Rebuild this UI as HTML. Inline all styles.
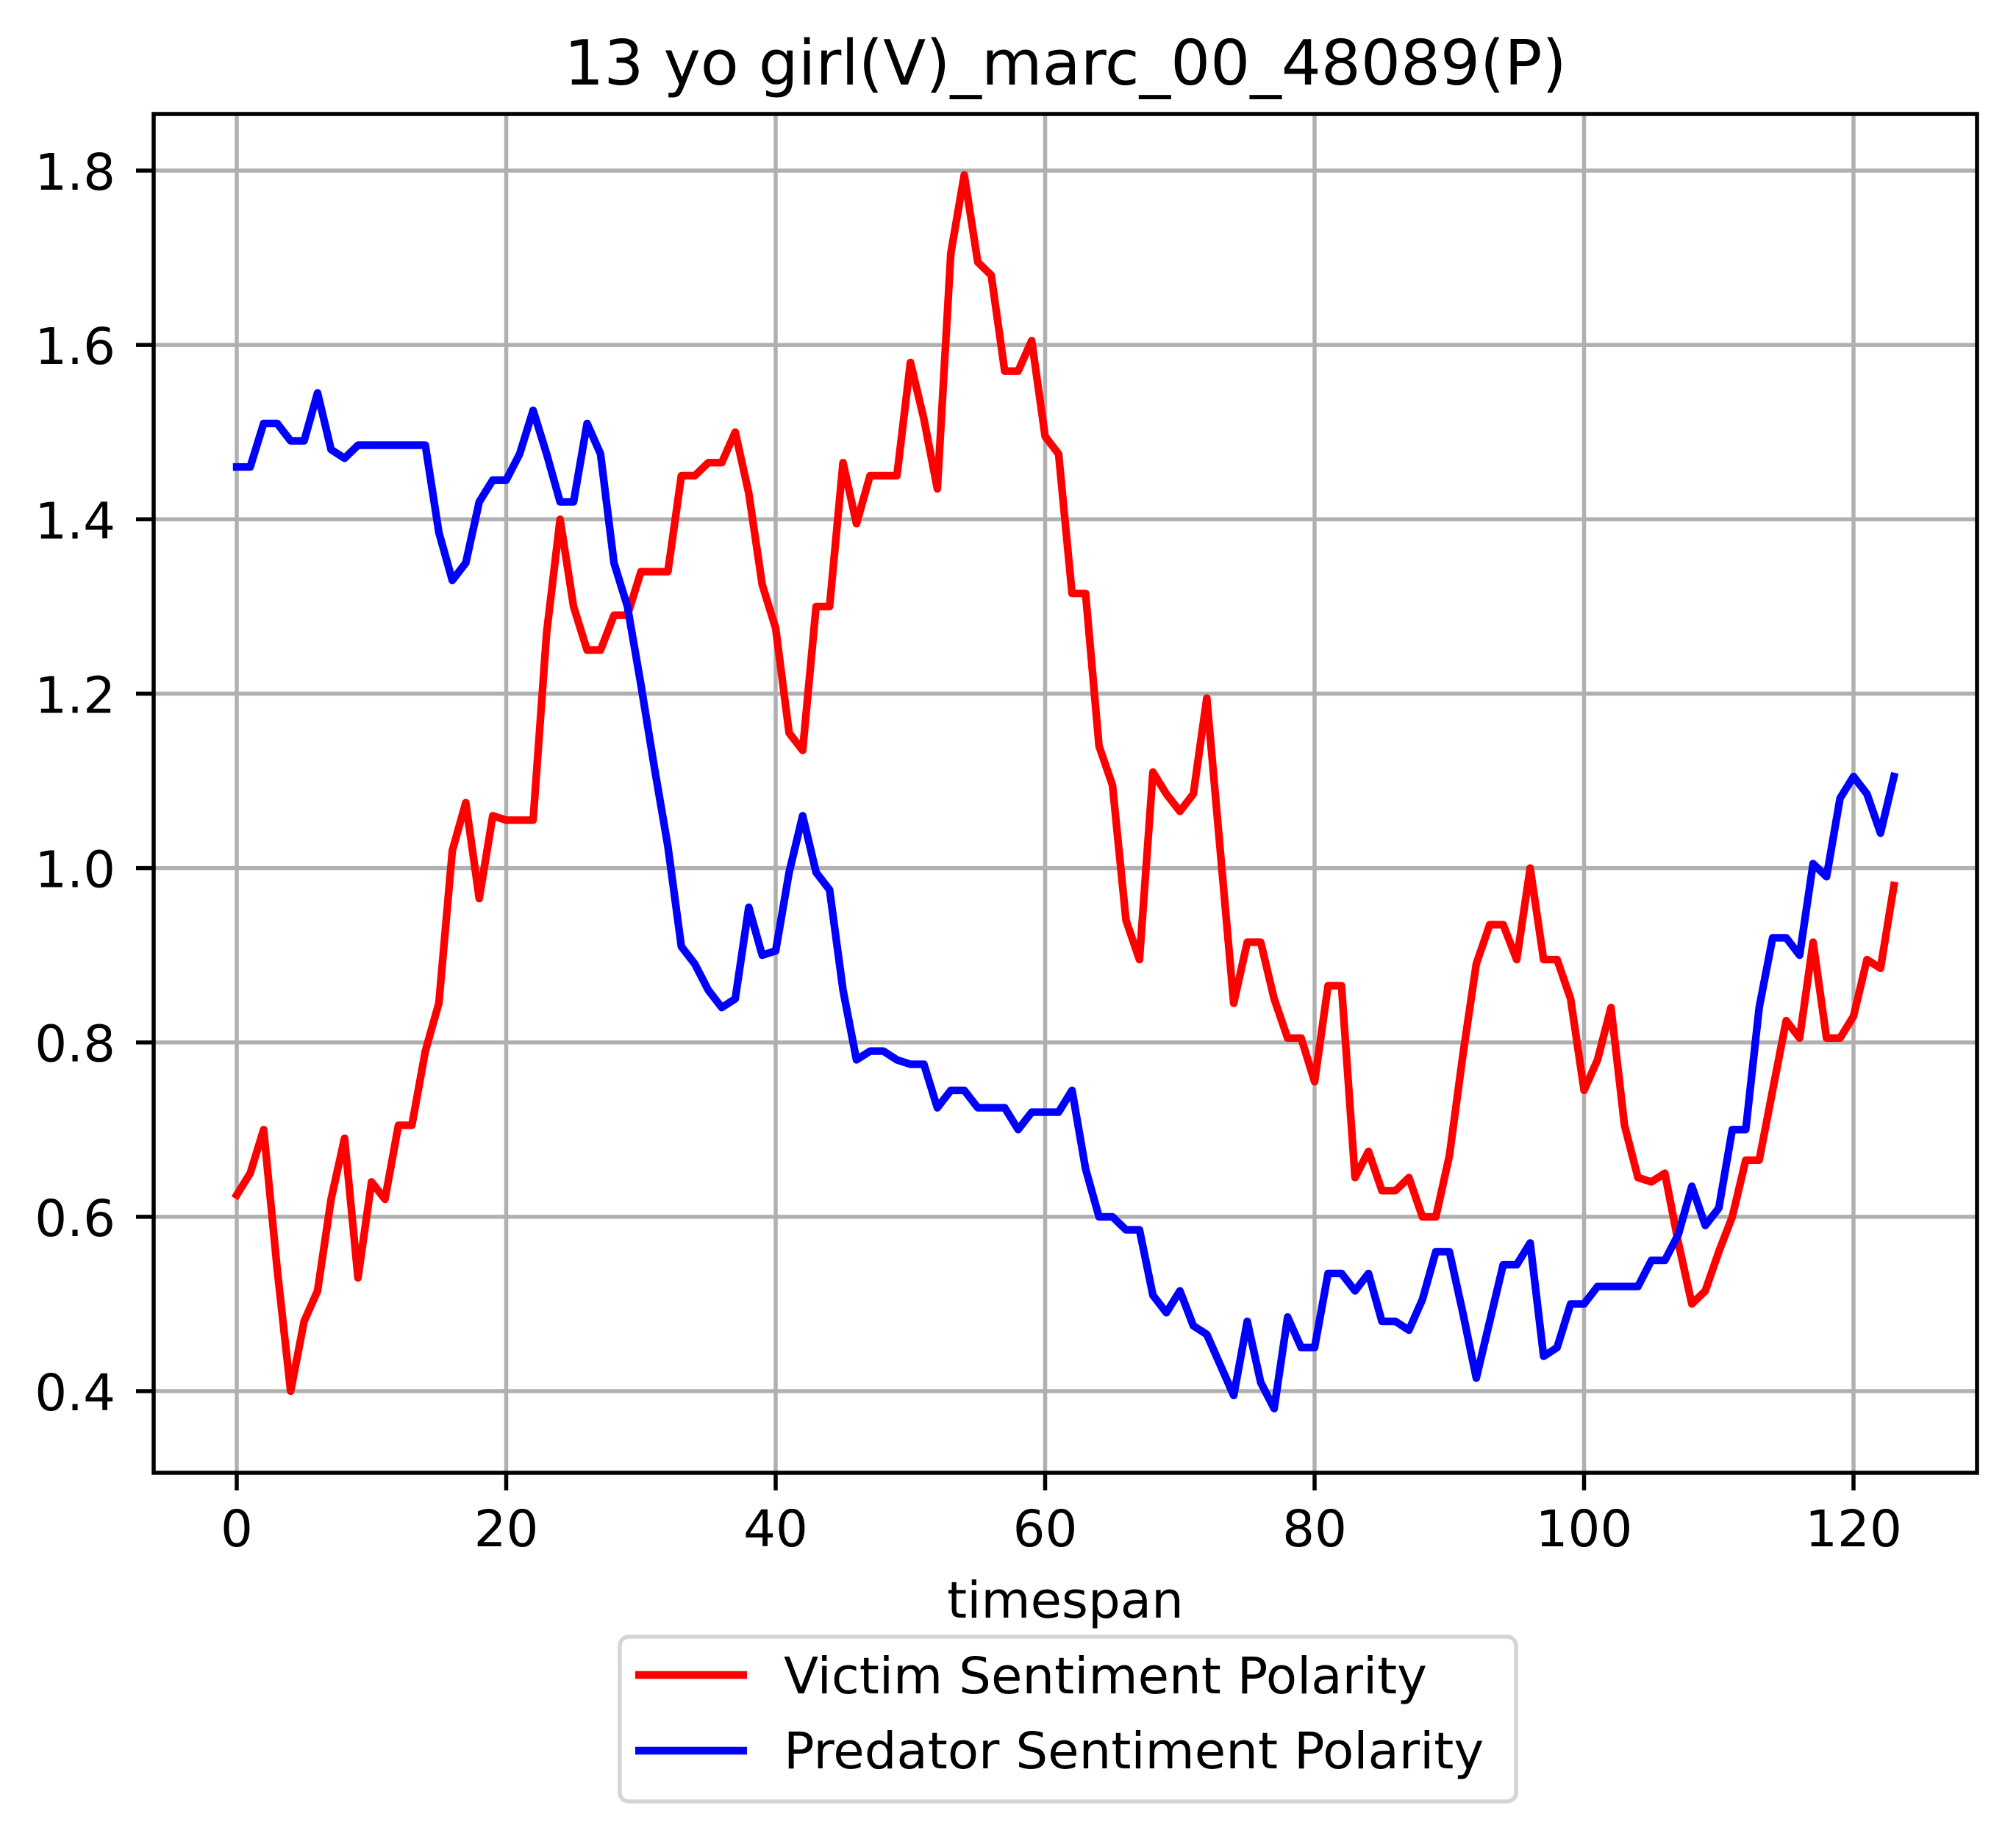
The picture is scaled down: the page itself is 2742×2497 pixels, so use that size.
<!DOCTYPE html>
<html><head><meta charset="utf-8"><style>
html,body{margin:0;padding:0;background:#fff;}
svg{display:block;font-family:"DejaVu Sans","Liberation Sans",sans-serif;}
</style></head><body>
<svg id="chart" width="2742" height="2497" viewBox="0 0 2742 2497" xmlns="http://www.w3.org/2000/svg">
<rect x="0" y="0" width="2742" height="2497" fill="#fff"/>
<text x="1449" y="115" font-size="85" text-anchor="middle">13 yo girl(V)_marc_00_48089(P)</text>
<g id="grid"></g>
<g id="series"></g>
<rect x="209" y="155" width="2480" height="1848" fill="none" stroke="#000" stroke-width="5.5"/>
<g id="ticks"></g>
<text x="1449" y="2200" font-size="69" text-anchor="middle">timespan</text>
<g>
<rect x="843" y="2226" width="1219" height="224" rx="12" fill="#fff" stroke="#d5d5d5" stroke-width="5.5"/>
<line x1="864" y1="2278" x2="1016" y2="2278" stroke="#ff0000" stroke-width="10.4"/>
<text x="1066" y="2303" font-size="69">Victim Sentiment Polarity</text>
<line x1="864" y1="2381" x2="1016" y2="2381" stroke="#0000ff" stroke-width="10.4"/>
<text x="1066" y="2405" font-size="69">Predator Sentiment Polarity</text>
</g>
</svg>
<script>
const xTicks = [0, 20, 40, 60, 80, 100, 120];
const yTicks = [0.4, 0.6, 0.8, 1.0, 1.2, 1.4, 1.6, 1.8];
const yTickLabels = ["0.4", "0.6", "0.8", "1.0", "1.2", "1.4", "1.6", "1.8"];
const victim = [0.625,0.65,0.70,0.54,0.40,0.48,0.515,0.62,0.69,0.53,0.64,0.62,0.705,0.705,0.79,0.845,1.02,1.075,0.965,1.06,1.055,1.055,1.055,1.27,1.40,1.30,1.25,1.25,1.29,1.29,1.34,1.34,1.34,1.45,1.45,1.465,1.465,1.50,1.43,1.325,1.275,1.155,1.135,1.30,1.30,1.465,1.395,1.45,1.45,1.45,1.58,1.515,1.435,1.705,1.795,1.695,1.68,1.57,1.57,1.605,1.495,1.475,1.315,1.315,1.14,1.095,0.94,0.895,1.11,1.085,1.065,1.085,1.195,1.02,0.845,0.915,0.915,0.85,0.805,0.805,0.755,0.865,0.865,0.645,0.675,0.63,0.63,0.645,0.60,0.60,0.67,0.785,0.89,0.935,0.935,0.895,1.00,0.895,0.895,0.85,0.745,0.78,0.84,0.705,0.645,0.64,0.65,0.57,0.50,0.515,0.56,0.60,0.665,0.665,0.745,0.825,0.805,0.915,0.805,0.805,0.83,0.895,0.885,0.98];
const predator = [1.46,1.46,1.51,1.51,1.49,1.49,1.545,1.48,1.47,1.485,1.485,1.485,1.485,1.485,1.485,1.385,1.33,1.35,1.42,1.445,1.445,1.475,1.525,1.475,1.42,1.42,1.51,1.475,1.35,1.30,1.21,1.115,1.025,0.91,0.89,0.86,0.84,0.85,0.955,0.90,0.905,0.995,1.06,0.995,0.975,0.86,0.78,0.79,0.79,0.78,0.775,0.775,0.725,0.745,0.745,0.725,0.725,0.725,0.70,0.72,0.72,0.72,0.745,0.655,0.60,0.60,0.585,0.585,0.51,0.49,0.515,0.475,0.465,0.43,0.395,0.48,0.41,0.38,0.485,0.45,0.45,0.535,0.535,0.515,0.535,0.48,0.48,0.47,0.505,0.56,0.56,0.49,0.415,0.48,0.545,0.545,0.57,0.44,0.45,0.50,0.50,0.52,0.52,0.52,0.52,0.55,0.55,0.58,0.635,0.59,0.61,0.70,0.70,0.84,0.92,0.92,0.90,1.005,0.99,1.08,1.105,1.085,1.04,1.105];

const NS = "http://www.w3.org/2000/svg";
const X0 = 322, XPER = (2521 - 322) / 120;
const Y18 = 232, Y04 = 1892;
function sx(v){ return X0 + v * XPER; }
function sy(v){ return Y04 + (v - 0.4) * (Y18 - Y04) / 1.4; }
function mk(tag, attrs, parent){
  const e = document.createElementNS(NS, tag);
  for (const k in attrs) e.setAttribute(k, attrs[k]);
  parent.appendChild(e);
  return e;
}
const grid = document.getElementById('grid');
const ticks = document.getElementById('ticks');
xTicks.forEach(function(t){
  const g = mk('line', {x1: sx(t), x2: sx(t), y1: 155, y2: 2003, stroke: '#b0b0b0', 'stroke-width': 5.5}, grid);
  
  
  const tk = mk('line', {x1: sx(t), x2: sx(t), y1: 2003, y2: 2027, stroke: '#000', 'stroke-width': 5.5}, ticks);
  
  
  const lb = mk('text', {x: sx(t), y: 2103, 'font-size': 69, 'text-anchor': 'middle'}, ticks);
  lb.textContent = String(t);
  
  
});
yTicks.forEach(function(t, i){
  const g = mk('line', {x1: 209, x2: 2689, y1: sy(t), y2: sy(t), stroke: '#b0b0b0', 'stroke-width': 5.5}, grid);
  
  
  const tk = mk('line', {x1: 185, x2: 209, y1: sy(t), y2: sy(t), stroke: '#000', 'stroke-width': 5.5}, ticks);
  
  
  const lb = mk('text', {x: 157, y: sy(t) + 26, 'font-size': 69, 'text-anchor': 'end'}, ticks);
  lb.textContent = yTickLabels[i];
  
  
});
const series = document.getElementById('series');
function drawLine(vals, color){
  return mk('polyline', {points: vals.map(function(v, i){ return sx(i).toFixed(1) + ',' + sy(v).toFixed(1); }).join(' '), fill: 'none', stroke: color, 'stroke-width': 10.4, 'stroke-linejoin': 'round', 'stroke-linecap': 'square'}, series);
}
const vl = drawLine(victim, '#ff0000');


const pl = drawLine(predator, '#0000ff');


</script>
</body></html>
